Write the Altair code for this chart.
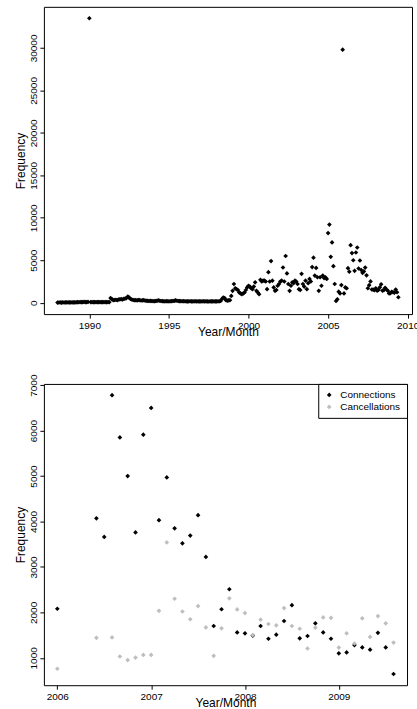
import altair as alt
import pandas as pd

FONT = "Liberation Sans"

# ---------------- top panel: monthly frequency, Jan 1988 onward ----------------
top_start_year = 1988
top_freq = [
    # 1988
    20, 25, 30, 20, 30, 25, 35, 30, 40, 30, 35, 40,
    # 1989
    40, 50, 45, 60, 55, 70, 80, 60, 90, 70, 80, 90,
    # 1990
    33500, 80, 70, 60, 80, 70, 60, 70, 80, 60, 70, 60,
    # 1991
    70, 60, 80, 60, 550, 420, 300, 320, 350, 300, 380, 400,
    # 1992
    420, 380, 450, 500, 550, 720, 600, 450, 380, 320, 300, 300,
    # 1993
    280, 320, 300, 260, 280, 300, 250, 230, 220, 200, 210, 200,
    # 1994
    190, 180, 200, 220, 280, 230, 200, 180, 170, 160, 180, 170,
    # 1995
    160, 170, 180, 200, 220, 280, 230, 200, 190, 180, 170, 180,
    # 1996
    170, 160, 150, 160, 170, 160, 150, 160, 170, 150, 160, 150,
    # 1997
    150, 160, 170, 150, 160, 150, 140, 160, 150, 160, 150, 160,
    # 1998
    150, 160, 170, 200, 450, 600, 550, 300, 250, 280, 300, 800,
    # 1999
    1400, 2200, 1700, 1600, 1500, 1200, 1100, 1000, 1100, 1200, 1500, 1800,
    # 2000
    2000, 1900, 1700, 1600, 1900, 2400, 1400, 1200, 1000, 2700, 2500, 2600,
    # 2001
    2600, 2500, 1600, 3600, 2500, 4900, 2600, 1800, 1400, 1500, 2000, 2200,
    # 2002
    2500, 2600, 4150, 2500, 5500, 3450, 2200, 1400, 2000, 2400, 2300, 2600,
    # 2003
    2500, 2200, 1600, 1500, 3400, 2200, 1900, 2600, 1600, 2300, 2800, 2500,
    # 2004
    4200, 5300, 3200, 4100, 3000, 1400, 3000, 2000, 3200, 2900, 3000, 2800,
    # 2005
    8200, 9200, 5400, 7100, 4300, 2200, 200, 400, 1300, 1100, 2080, 29800,
    # 2006
    1100, 1800, 1700, 4070, 3660, 6780, 5850, 5000, 3760, 5910, 6500, 4030,
    # 2007
    4970, 3850, 3520, 3690, 4140, 3220, 1700, 2070, 2510, 1560, 1540, 1490,
    # 2008
    1700, 1420, 1510, 1810, 2160, 1430, 1480, 1760, 1560, 1420, 1100, 1120,
    # 2009
    1280, 1230, 1180, 1550, 1230, 645,
]

# ---------------- bottom panel: months counted from Jan 2006 ----------------
conn_months = [0, 5, 6, 7, 8, 9, 10, 11, 12, 13, 14, 15, 16, 17, 18, 19, 20, 21,
               22, 23, 24, 25, 26, 27, 28, 29, 30, 31, 32, 33, 34, 35, 36, 37,
               38, 39, 40, 41, 42, 43]
conn_values = [2080, 4070, 3660, 6780, 5850, 5000, 3760, 5910, 6500, 4030, 4970,
               3850, 3520, 3690, 4140, 3220, 1700, 2070, 2510, 1560, 1540, 1490,
               1700, 1420, 1510, 1810, 2160, 1430, 1480, 1760, 1560, 1420, 1100,
               1120, 1280, 1230, 1180, 1550, 1230, 645]
canc_months = [0, 5, 7, 8, 9, 10, 11, 12, 13, 14, 15, 16, 17, 18, 19, 20, 21, 22,
               23, 24, 25, 26, 27, 28, 29, 30, 31, 32, 33, 34, 35, 36, 37, 38,
               39, 40, 41, 42, 43]
canc_values = [760, 1440, 1450, 1030, 950, 1005, 1065, 1065, 2035, 3540, 2300, 2020,
               1850, 2140, 1670, 1045, 1650, 2310, 2065, 1985, 1500, 1840, 1745,
               1715, 2095, 1700, 1640, 1205, 1665, 1890, 1880, 1225, 1540, 1315,
               1870, 1460, 1920, 1760, 1335]
bottom_start_year = 2006
series_names = ["Connections", "Cancellations"]
series_colors = ["black", "#bebebe"]

top_df = pd.DataFrame({
    "t": [top_start_year + i / 12 for i in range(len(top_freq))],
    "freq": top_freq,
})

bottom_df = pd.concat([
    pd.DataFrame({"t": [bottom_start_year + m / 12 for m in conn_months],
                  "freq": conn_values, "series": series_names[0], "ord": 0}),
    pd.DataFrame({"t": [bottom_start_year + m / 12 for m in canc_months],
                  "freq": canc_values, "series": series_names[1], "ord": 1}),
], ignore_index=True)


def y_axis(values, h):
    return alt.Axis(values=values, format="d", labelAngle=270, labelAlign="center",
                    labelBaseline="bottom", labelPadding=1, title="Frequency",
                    titleAngle=270, titleX=-23, titleY=h / 2, titleAlign="center",
                    titleAnchor="middle", titleBaseline="middle")


def x_axis(values, w):
    return alt.Axis(values=values, format="d", labelPadding=2, labelFlush=False,
                    labelOverlap=False, title="Year/Month", titleX=w / 2, titleY=17.5,
                    titleBaseline="middle", titleAlign="center", titleAnchor="middle")


TOP_W, TOP_H = 369, 308
BOT_W, BOT_H = 364, 302

top = alt.Chart(top_df).mark_point(
    shape="diamond", filled=True, size=22, opacity=1, color="black", strokeWidth=0
).encode(
    x=alt.X("t:Q", scale=alt.Scale(domain=[1987.143, 2010.274], nice=False, zero=False),
            axis=x_axis([1990, 1995, 2000, 2005, 2010], TOP_W)),
    y=alt.Y("freq:Q", scale=alt.Scale(domain=[-1340, 34840], nice=False, zero=False),
            axis=y_axis([0, 5000, 10000, 15000, 20000, 25000, 30000], TOP_H)),
).properties(width=TOP_W, height=TOP_H)

bottom = alt.Chart(bottom_df).mark_point(
    shape="diamond", filled=True, size=22, opacity=1, strokeWidth=0
).encode(
    x=alt.X("t:Q", scale=alt.Scale(domain=[2005.857, 2009.727], nice=False, zero=False),
            axis=x_axis([2006, 2007, 2008, 2009], BOT_W)),
    y=alt.Y("freq:Q", scale=alt.Scale(domain=[398, 7027], nice=False, zero=False),
            axis=y_axis([1000, 2000, 3000, 4000, 5000, 6000, 7000], BOT_H)),
    color=alt.Color("series:N",
                    scale=alt.Scale(domain=series_names, range=series_colors),
                    legend=alt.Legend(title=None, orient="top-right", offset=0,
                                      strokeColor="black", fillColor="white",
                                      padding=6, symbolType="diamond", symbolSize=22,
                                      symbolStrokeWidth=0, labelFontSize=10,
                                      labelFont=FONT, rowPadding=2, labelOffset=6,
                                      cornerRadius=0)),
    order=alt.Order("ord:Q"),
).properties(width=BOT_W, height=BOT_H)

chart = alt.vconcat(
    top, bottom, spacing=70, bounds="flush",
    padding={"left": 14, "top": 5, "right": -3, "bottom": 0},
).resolve_legend(
    color="independent"
).configure(
    font=FONT, background="white"
).configure_view(
    stroke="black", strokeWidth=1
).configure_axis(
    domain=False, grid=False, ticks=True, tickColor="black", tickSize=4, tickWidth=1,
    labelColor="black", titleColor="black", labelFont=FONT, titleFont=FONT,
    labelFontSize=10, titleFontSize=12, titleFontWeight="normal",
)

chart.save("out.html", embed_options={"renderer": "svg", "actions": False})
